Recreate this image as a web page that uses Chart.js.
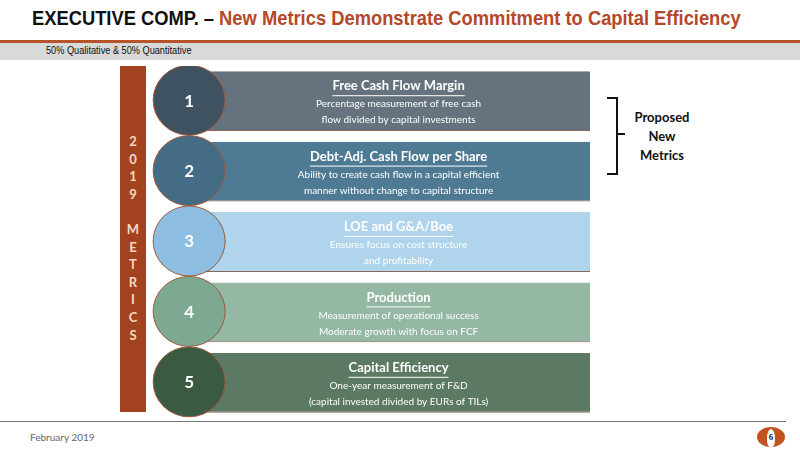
<!DOCTYPE html>
<html><head><meta charset="utf-8">
<script src="https://cdn.jsdelivr.net/npm/chart.js@4"></script>
<style>
body{margin:0;width:800px;height:450px;position:relative;background:#fff;font-family:Lato,"Open Sans",sans-serif;overflow:hidden}
.abs{position:absolute}
#title{left:32px;top:6px;font:bold 21px "Liberation Sans",Arial;color:#111;white-space:nowrap;transform:scaleX(0.873);transform-origin:0 0}
#title span{color:#b5482a}
#rule{left:0;top:40px;width:800px;height:3px;background:#b5532a}
#band{left:0;top:43px;width:800px;height:17px;background:#d9d9d9;color:#111}
#band span{position:absolute;left:46px;top:1px;font:11px "Liberation Sans",Arial;white-space:nowrap;transform:scaleX(0.835);transform-origin:0 0}
#vbar{left:120px;top:66px;width:26px;height:346px;background:#a3421f;color:#f6d9c5;font:bold 13px Lato;text-align:center}
#foot{left:0;top:421px;width:786px;height:1px;background:#777}
#date{left:30px;top:431px;font:10px Lato;color:#666}
#logo{left:757px;top:427px;width:28px;height:20px;border-radius:50%;background:#c0531f;color:#222;font:bold 9px serif;text-align:center;line-height:20px}
#logo i{position:absolute;left:10px;top:2px;width:8px;height:18px;background:#fff;border-radius:50% 50% 40% 40%}
#logo b{position:relative}
#brk{left:607px;top:97px;width:9px;height:74px;border:2px solid #111;border-left:none}
#brkm{left:618px;top:133px;width:7px;height:2px;background:#111}
#prop{left:622px;top:108px;width:80px;text-align:center;font:bold 13px Lato;line-height:19px;color:#111}
#cwrap{left:150px;top:66px;width:440px;height:352px}
</style></head><body>
<div id="title" class="abs">EXECUTIVE COMP. – <span>New Metrics Demonstrate Commitment to Capital Efficiency</span></div>
<div id="rule" class="abs"></div>
<div id="band" class="abs"><span>50% Qualitative &amp; 50% Quantitative</span></div>
<div id="vbar" class="abs"></div>
<div id="brk" class="abs"></div><div id="brkm" class="abs"></div>
<div id="prop" class="abs">Proposed<br>New<br>Metrics</div>
<div id="cwrap" class="abs"><canvas id="c"></canvas></div>
<div id="foot" class="abs"></div>
<div id="date" class="abs">February 2019</div>
<div id="logo" class="abs"><i></i><b>6</b></div>
<script>
const numbers=["1","2","3","4","5"];
const titles=["Free Cash Flow Margin","Debt-Adj. Cash Flow per Share","LOE and G&A/Boe","Production","Capital Efficiency"];
const line1=["Percentage measurement of free cash","Ability to create cash flow in a capital efficient","Ensures focus on cost structure","Measurement of operational success","One-year measurement of F&D"];
const line2=["flow divided by capital investments","manner without change to capital structure","and profitability","Moderate growth with focus on FCF","(capital invested divided by EURs of TILs)"];
const values=[1,1,1,1,1];
const barColors=["#66737f","#4e7a93","#afd4ec","#94b8a4","#5c7a63"];
const circleColors=["#3f5262","#446c85","#8dbde0","#7da993","#3a5a41"];
const sideLetters=["2","0","1","9","","M","E","T","R","I","C","S"];

const vb=document.getElementById('vbar');
sideLetters.forEach((l,i)=>{const d=document.createElement('div');d.style.cssText='position:absolute;left:0;width:26px;top:'+(67+i*17.6)+'px';d.textContent=l;vb.appendChild(d);});

const deco={id:'deco',afterDatasetsDraw(ch){
  const ctx=ch.ctx,xs=ch.scales.x,ys=ch.scales.y;
  const cx=xs.getPixelForValue(0)-8, tx=xs.getPixelForValue(0.5)+5;
  numbers.forEach((n,i)=>{
    const y=ys.getPixelForValue(i);
    ctx.save();
    ctx.beginPath();ctx.ellipse(cx,y-1,36,35,0,0,Math.PI*2);
    ctx.fillStyle=circleColors[i];ctx.fill();
    ctx.lineWidth=1;ctx.strokeStyle='#9b5a3a';ctx.stroke();
    ctx.fillStyle='#fff';ctx.textAlign='center';ctx.textBaseline='middle';
    ctx.font='bold 17px Lato';ctx.fillText(n,cx,y);
    ctx.font='bold 13px Lato';ctx.fillText(titles[i],tx,y-15);
    const w=ctx.measureText(titles[i]).width;
    ctx.fillRect(tx-w/2,y-6,w,1);
    ctx.font='10px Lato';
    ctx.fillText(line1[i],tx,y+3);ctx.fillText(line2[i],tx,y+19);
    ctx.restore();
  });
}};
new Chart(document.getElementById('c'),{
  type:'bar',
  data:{labels:numbers,datasets:[{data:values,backgroundColor:barColors,borderColor:'#8a6a5a',borderWidth:{top:0,bottom:1,left:0,right:0},barPercentage:0.85,categoryPercentage:1}]},
  options:{indexAxis:'y',responsive:true,maintainAspectRatio:false,animation:false,
    layout:{padding:0},
    plugins:{legend:{display:false},tooltip:{enabled:false}},
    scales:{x:{min:-0.12,max:1,display:false},y:{display:false}}},
  plugins:[deco]
});
</script>
</body></html>
